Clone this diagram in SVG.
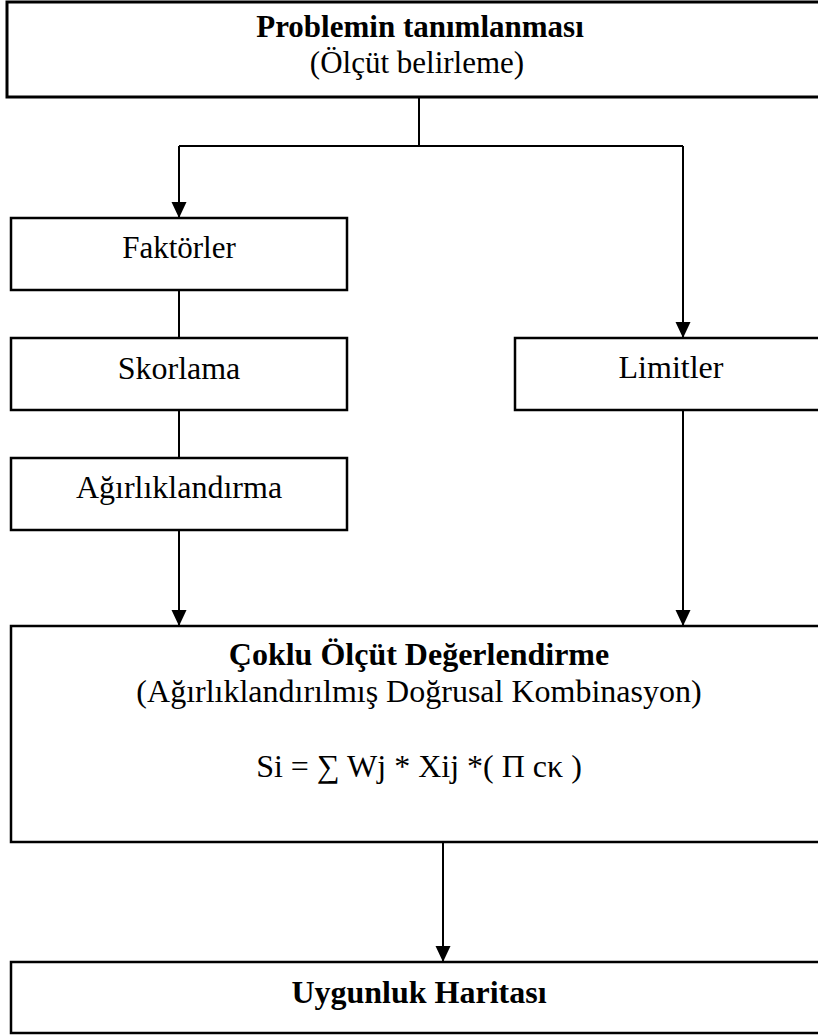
<svg xmlns="http://www.w3.org/2000/svg" width="818" height="1035" viewBox="0 0 818 1035">
  <style>
    .box { fill: #ffffff; stroke: #000000; stroke-width: 2.5; }
    .wire { fill: none; stroke: #000000; stroke-width: 2; }
    text { font-family: "Liberation Serif", "Times New Roman", serif; fill: #000000; text-anchor: middle; }
    .b { font-weight: bold; }
  </style>
  <defs>
    <marker id="arrow" markerUnits="userSpaceOnUse" markerWidth="16" markerHeight="16" refX="16" refY="7.5" orient="auto">
      <path d="M0,0 L16,7.5 L0,15 Z" fill="#000000"/>
    </marker>
  </defs>

  <rect width="818" height="1035" fill="#ffffff"/>

  <!-- connectors -->
  <g id="connectors">
    <polyline class="wire" points="419,97 419,146"/>
    <polyline class="wire" points="179,146 683,146"/>
    <polyline class="wire" points="179,146 179,218" marker-end="url(#arrow)"/>
    <polyline class="wire" points="683,146 683,338" marker-end="url(#arrow)"/>
    <polyline class="wire" points="179,290 179,338"/>
    <polyline class="wire" points="179,410 179,458"/>
    <polyline class="wire" points="179,530 179,626" marker-end="url(#arrow)"/>
    <polyline class="wire" points="683,410 683,626" marker-end="url(#arrow)"/>
    <polyline class="wire" points="443,842 443,962" marker-end="url(#arrow)"/>
  </g>

  <!-- problem definition -->
  <g id="problem">
    <rect class="box" x="7" y="2" width="830" height="95" style="stroke-width:3"/>
    <text class="b" x="420" y="37" font-size="31">Problemin tanımlanması</text>
    <text x="417" y="73" font-size="31">(Ölçüt belirleme)</text>
  </g>

  <g id="faktorler">
    <rect class="box" x="11" y="218" width="336" height="72"/>
    <text x="179" y="258" font-size="31">Faktörler</text>
  </g>

  <g id="skorlama">
    <rect class="box" x="11" y="338" width="336" height="72"/>
    <text x="179" y="379" font-size="32">Skorlama</text>
  </g>

  <g id="agirliklandirma">
    <rect class="box" x="11" y="458" width="336" height="72"/>
    <text x="179" y="498" font-size="32">Ağırlıklandırma</text>
  </g>

  <g id="limitler">
    <rect class="box" x="515" y="338" width="320" height="72"/>
    <text x="671" y="378" font-size="32">Limitler</text>
  </g>

  <!-- multi-criteria evaluation -->
  <g id="coklu-olcut">
    <rect class="box" x="11" y="626" width="826" height="216"/>
    <text class="b" x="419" y="665" font-size="32">Çoklu Ölçüt Değerlendirme</text>
    <text x="419" y="702" font-size="32">(Ağırlıklandırılmış Doğrusal Kombinasyon)</text>
    <text x="419" y="777" font-size="32">Si = ∑ Wj * Xij *( Π cκ )</text>
  </g>

  <g id="uygunluk">
    <rect class="box" x="11" y="962" width="826" height="71"/>
    <text class="b" x="419" y="1003" font-size="32">Uygunluk Haritası</text>
  </g>
</svg>
